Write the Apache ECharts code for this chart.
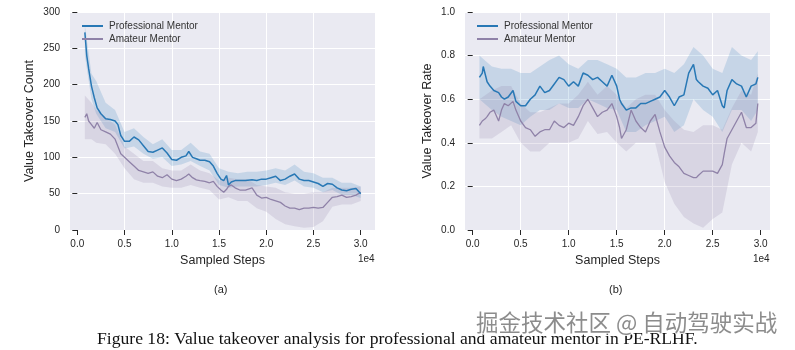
<!DOCTYPE html>
<html><head><meta charset="utf-8">
<script src="https://cdn.jsdelivr.net/npm/echarts@6/dist/echarts.min.js"></script>
<style>html,body{margin:0;padding:0;background:#fff}#c{width:795px;height:350px}</style>
</head><body><div id="c"></div>
<script>
// ---------- data ----------
const X_TICKS = [0, 5000, 10000, 15000, 20000, 25000, 30000];
const SERIES_NAMES = ['Professional Mentor', 'Amateur Mentor'];

// (a) Value Takeover Count
const L_steps = [800,1000,1200,1500,1800,2100,2500,3000,3500,4000,4300,4600,5000,5500,6000,6500,7000,7500,8000,8500,9000,9500,10000,10500,11000,11500,11800,12200,12600,13000,13500,14000,14400,14800,15200,15500,15800,16000,16300,16700,17200,17800,18500,19000,19500,20000,20500,21000,21500,22000,22500,23000,23500,24000,24500,25000,25500,26000,26500,27000,27500,28000,28500,29000,29500,30000];
const L_prof = [272,240,222,198,182,168,160,153,152,150,145,130,122,122,128,124,116,108,107,110,113,106,97,96,100,102,108,100,98,96,96,94,88,78,70,68,75,62,66,68,68,68,69,68,70,70,72,74,68,70,74,77,70,68,68,66,64,60,64,63,58,55,54,56,57,50];
const L_amat = [155,160,150,145,140,148,138,135,132,125,115,105,100,94,88,82,80,78,80,74,72,76,70,68,70,74,77,72,69,68,67,65,67,60,55,52,56,60,62,58,55,55,58,48,44,45,42,40,38,33,30,30,28,30,30,31,30,31,38,45,46,48,45,46,48,52];
const L_band_steps = [800,1500,2000,3000,4000,5000,6000,7000,8000,9000,10000,11000,12000,13000,14000,15000,16000,17000,18000,19000,20000,21000,22000,23000,24000,25000,26000,27000,28000,29000,30000];
const L_prof_lo = [240,180,160,140,135,112,115,105,98,100,88,90,95,88,82,62,58,60,60,60,62,65,62,68,60,58,52,55,48,48,44];
const L_prof_hi = [282,215,205,175,165,135,140,128,118,125,110,110,120,108,105,85,80,78,80,80,82,85,82,90,80,78,72,72,65,65,60];
const L_amat_lo = [125,125,120,118,105,85,70,65,65,60,58,58,62,58,55,42,45,40,40,30,25,15,8,5,3,4,12,32,35,35,40];
const L_amat_hi = [185,175,165,155,145,115,105,95,95,85,82,82,90,82,78,68,72,70,70,62,60,58,52,50,50,52,52,58,58,58,60];

// (b) Value Takeover Rate
const R_steps = [700,1000,1100,1300,1500,1800,2200,2700,3000,3300,3700,4200,4500,5000,5500,6000,6500,7000,7500,8000,8500,9000,9500,10000,10500,11000,11500,12000,12500,13000,13500,14000,14500,15000,15300,15500,16000,16500,17000,17500,18000,18500,19000,19500,20000,20500,21000,21500,22000,22500,23000,23300,23500,24000,24500,25000,25500,26000,26200,26500,27000,27500,28000,28500,29000,29500,29700];
const R_prof = [0.70,0.72,0.75,0.75,0.68,0.66,0.64,0.63,0.61,0.60,0.61,0.64,0.59,0.57,0.57,0.60,0.62,0.66,0.63,0.64,0.67,0.70,0.69,0.66,0.68,0.66,0.72,0.71,0.69,0.70,0.68,0.66,0.71,0.66,0.60,0.58,0.55,0.56,0.56,0.58,0.58,0.59,0.60,0.61,0.64,0.61,0.57,0.61,0.62,0.72,0.76,0.69,0.68,0.66,0.65,0.62,0.64,0.57,0.56,0.64,0.69,0.67,0.66,0.61,0.66,0.67,0.70];
const R_amat = [0.48,0.50,0.50,0.51,0.52,0.54,0.55,0.50,0.55,0.58,0.57,0.59,0.55,0.50,0.47,0.46,0.43,0.45,0.46,0.46,0.50,0.48,0.47,0.49,0.48,0.52,0.57,0.60,0.56,0.52,0.54,0.55,0.58,0.52,0.47,0.42,0.46,0.55,0.50,0.47,0.45,0.50,0.53,0.45,0.38,0.34,0.31,0.29,0.26,0.25,0.24,0.24,0.25,0.27,0.27,0.27,0.26,0.30,0.35,0.42,0.46,0.50,0.54,0.47,0.47,0.49,0.58];
const R_band_steps = [700,2000,3000,4000,5000,6000,7000,8000,9000,10000,11000,12000,13000,14000,15000,16000,17000,18000,19000,20000,21000,22000,23000,24000,25000,26000,27000,28000,29000,29700];
const R_prof_lo = [0.60,0.55,0.52,0.50,0.48,0.52,0.55,0.55,0.58,0.56,0.56,0.60,0.58,0.56,0.55,0.45,0.45,0.48,0.50,0.52,0.45,0.48,0.60,0.55,0.52,0.45,0.55,0.55,0.50,0.55];
const R_prof_hi = [0.80,0.75,0.74,0.74,0.72,0.72,0.75,0.78,0.80,0.76,0.74,0.78,0.78,0.76,0.74,0.70,0.70,0.72,0.72,0.74,0.72,0.76,0.84,0.80,0.74,0.72,0.84,0.80,0.78,0.82];
const R_amat_lo = [0.42,0.42,0.45,0.48,0.40,0.36,0.36,0.40,0.40,0.40,0.42,0.50,0.44,0.45,0.40,0.36,0.40,0.40,0.40,0.22,0.12,0.06,0.03,0.01,0.05,0.08,0.30,0.40,0.36,0.45];
const R_amat_hi = [0.60,0.64,0.66,0.66,0.58,0.54,0.54,0.56,0.58,0.58,0.62,0.68,0.62,0.66,0.62,0.56,0.60,0.62,0.62,0.55,0.50,0.46,0.45,0.48,0.48,0.46,0.56,0.64,0.62,0.72];

// ---------- styling ----------
const BLUE = '#2878b5', PURPLE = '#8f82a8';
const BLUE_BAND = 'rgba(40,120,181,0.18)', PURPLE_BAND = 'rgba(143,130,168,0.2)';
const BG = '#eaeaf2', TXT = '#262626', FONT = 'Liberation Sans, Arial, sans-serif';

const pairs = (xs, ys) => xs.map((x, i) => [x, ys[i]]);
function band(idx, xs, lo, hi, color) {
  return {
    type: 'custom', xAxisIndex: idx, yAxisIndex: idx, silent: true, z: 1,
    data: xs.map((x, i) => [x, lo[i], hi[i]]),
    encode: { x: 0, y: [1, 2] },
    renderItem: function (params, api) {
      if (params.dataIndex !== 0) return null;
      const top = xs.map((x, i) => api.coord([x, hi[i]]));
      const bot = xs.map((x, i) => api.coord([x, lo[i]])).reverse();
      return { type: 'polygon', shape: { points: top.concat(bot) }, style: { fill: color } };
    }
  };
}
function meanLine(idx, name, xs, ys, color, w) {
  return { type: 'line', name: name, xAxisIndex: idx, yAxisIndex: idx, symbol: 'none',
    lineStyle: { color: color, width: w }, itemStyle: { color: color }, data: pairs(xs, ys), z: 3 };
}
function xAxis(idx, min, max) {
  return { type: 'value', gridIndex: idx, min: min, max: max,
    axisLine: { show: false },
    axisTick: { show: true, length: 5, lineStyle: { color: TXT }, customValues: X_TICKS },
    axisLabel: { color: TXT, fontSize: 10, fontFamily: FONT, margin: 9, customValues: X_TICKS,
      formatter: v => (v / 10000).toFixed(1) },
    splitLine: { show: true, showMinLine: false, showMaxLine: false, lineStyle: { color: '#fff', width: 1 } },
    name: 'Sampled Steps', nameLocation: 'middle', nameGap: 24,
    nameTextStyle: { color: TXT, fontSize: 12.5, fontFamily: FONT } };
}
function yAxis(idx, max, interval, name, gap, fmt) {
  return { type: 'value', gridIndex: idx, min: 0, max: max, interval: interval,
    axisLine: { show: false },
    axisTick: { show: true, length: 5, lineStyle: { color: TXT } },
    axisLabel: { color: TXT, fontSize: 10, fontFamily: FONT, margin: 10, formatter: fmt },
    splitLine: { show: true, lineStyle: { color: '#fff', width: 1 } },
    name: name, nameLocation: 'middle', nameGap: gap,
    nameTextStyle: { color: TXT, fontSize: 12.5, fontFamily: FONT } };
}
function legend(left) {
  return { left: left, top: 16, orient: 'vertical', itemWidth: 21, itemHeight: 2, itemGap: 3,
    icon: 'rect',
    data: SERIES_NAMES, textStyle: { color: '#333', fontSize: 10, fontFamily: FONT, padding: [0, 0, 0, 1] }, selectedMode: false };
}

const chart = echarts.init(document.getElementById('c'), null, { renderer: 'canvas' });
chart.setOption({
  animation: false,
  backgroundColor: '#fff',
  grid: [
    { left: 70, top: 12, width: 305, height: 218, show: true, backgroundColor: BG, borderWidth: 0 },
    { left: 465, top: 12, width: 305, height: 218, show: true, backgroundColor: BG, borderWidth: 0 }
  ],
  xAxis: [xAxis(0, -773, 31513), xAxis(1, -802, 30969)],
  yAxis: [
    yAxis(0, 300, 50, 'Value Takeover Count', 34, v => String(v)),
    yAxis(1, 1, 0.2, 'Value Takeover Rate', 31, v => v.toFixed(1))
  ],
  legend: [legend(77), legend(472)],
  series: [
    band(0, L_band_steps, L_prof_lo, L_prof_hi, BLUE_BAND),
    band(0, L_band_steps, L_amat_lo, L_amat_hi, PURPLE_BAND),
    meanLine(0, SERIES_NAMES[1], L_steps, L_amat, PURPLE, 1.3),
    meanLine(0, SERIES_NAMES[0], L_steps, L_prof, BLUE, 1.5),
    band(1, R_band_steps, R_prof_lo, R_prof_hi, BLUE_BAND),
    band(1, R_band_steps, R_amat_lo, R_amat_hi, PURPLE_BAND),
    meanLine(1, SERIES_NAMES[1], R_steps, R_amat, PURPLE, 1.3),
    meanLine(1, SERIES_NAMES[0], R_steps, R_prof, BLUE, 1.5)
  ],
  graphic: [
    { type: 'text', left: 358, top: 254, style: { text: '1e4', fill: TXT, font: '10px ' + FONT } },
    { type: 'text', left: 753, top: 254, style: { text: '1e4', fill: TXT, font: '10px ' + FONT } },
    { type: 'text', left: 214, top: 284, style: { text: '(a)', fill: TXT, font: '11px ' + FONT } },
    { type: 'text', left: 609, top: 284, style: { text: '(b)', fill: TXT, font: '11px ' + FONT } },
    { type: 'text', left: 97, top: 330, style: { text: 'Figure 18: Value takeover analysis for professional and amateur mentor in PE-RLHF.', fill: '#111', font: '17.6px "Liberation Serif", "Times New Roman", serif' } },
    { type: 'text', left: 475, top: 310, z: 100, style: { text: '掘金技术社区 @ 自动驾驶实战', fill: 'rgba(120,120,120,0.85)', font: '22.5px "Noto Sans CJK SC", sans-serif', stroke: 'rgba(255,255,255,0.9)', lineWidth: 2 } }
  ]
});
</script></body></html>
